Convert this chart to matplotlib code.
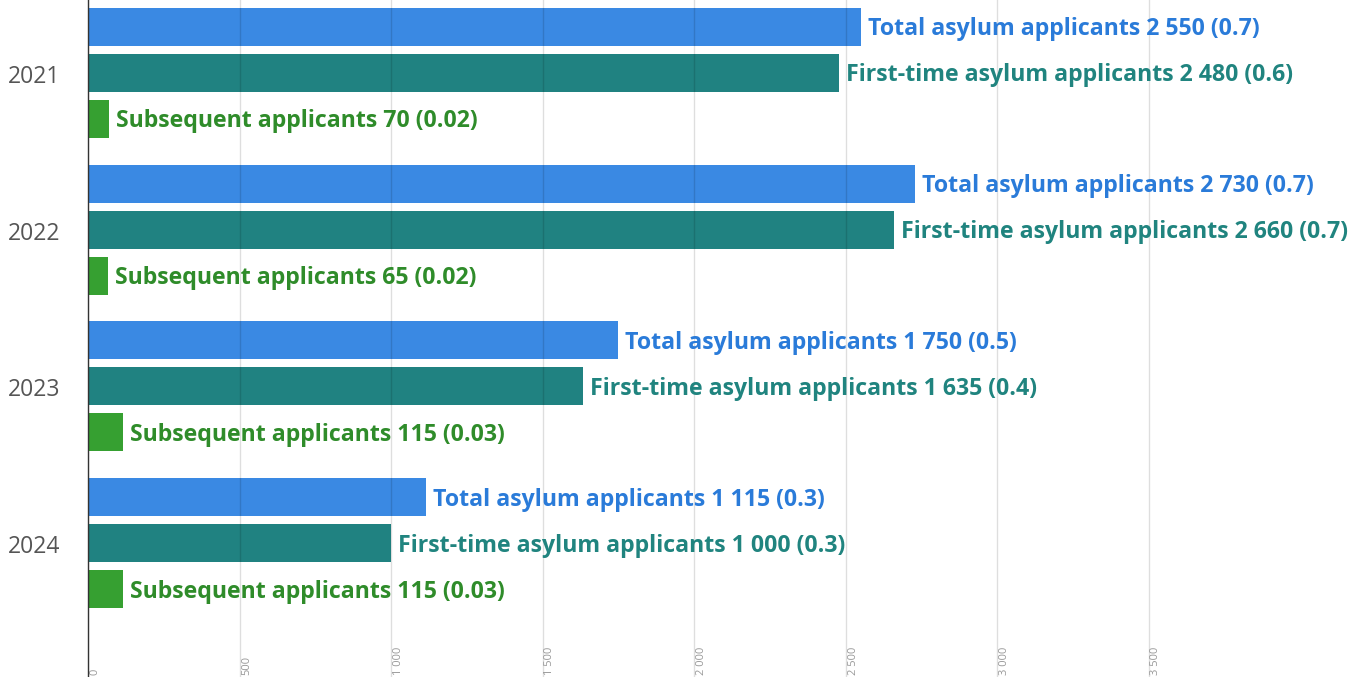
import matplotlib.pyplot as plt
import matplotlib.transforms as mtransforms
import numpy as np

years = ["2021", "2022", "2023", "2024"]
total = [2550, 2730, 1750, 1115]
total_share = ["0.7", "0.7", "0.5", "0.3"]
first_time = [2480, 2660, 1635, 1000]
first_share = ["0.6", "0.7", "0.4", "0.3"]
subsequent = [70, 65, 115, 115]
subs_share = ["0.02", "0.02", "0.03", "0.03"]
xticks = [0, 500, 1000, 1500, 2000, 2500, 3000, 3500]

series = [
    ("Total asylum applicants", total, total_share, "#3a89e3", "#2a7bd9"),
    ("First-time asylum applicants", first_time, first_share, "#208281", "#20847f"),
    ("Subsequent applicants", subsequent, subs_share, "#36a031", "#2f8c2a"),
]

W, H = 1367, 677
fig = plt.figure(figsize=(W / 100, H / 100), dpi=100)
left_px = 88
ax = fig.add_axes([left_px / W, 0, 1 - left_px / W, 1])

px_per_unit = 151.5 / 500
ax.set_xlim(0, (W - left_px) / px_per_unit)
group = 156.7
top = 73
ax.set_ylim((H - top) / group, -top / group)

y = np.arange(len(years))
bar_h = 38 / group
step = 46 / group
font = ["Open Sans", "DejaVu Sans"]

for k, (name, vals, shares, col, tcol) in enumerate(series):
    pos = y + (k - 1) * step
    ax.barh(pos, vals, height=bar_h, color=col, zorder=1)
    for p, v, s in zip(pos, vals, shares):
        lab = f"{name} {v:,} ({s})".replace(",", " ")
        ax.annotate(lab, (v, p), xytext=(5, -1.8), textcoords="offset points",
                    va="center", ha="left", fontsize=16.7, fontweight="bold",
                    color=tcol, family=font, zorder=3)

# grid drawn over bars
off = mtransforms.offset_copy(ax.get_xaxis_transform(), fig=fig, x=2, y=2, units="dots")
for t in xticks:
    ax.axvline(t, color="black", alpha=0.13, lw=1, zorder=2)
    ax.text(t, 0, f"{t:,}".replace(",", " "), rotation=90, ha="left", va="bottom",
            fontsize=8, color="#999999", family=font, transform=off)

# year labels
for yy, lab in zip(y, years):
    ax.text(-80 / (W - left_px), yy + 4 / group, lab, transform=ax.get_yaxis_transform(),
            ha="left", va="center", fontsize=16.5, color="#555555", family=font)

ax.set_xticks([])
ax.set_yticks([])

for s in ["top", "right", "bottom"]:
    ax.spines[s].set_visible(False)
ax.spines["left"].set_color("#333333")
ax.spines["left"].set_linewidth(1)
ax.spines["left"].set_zorder(4)

fig.savefig("out.png", dpi=100)
